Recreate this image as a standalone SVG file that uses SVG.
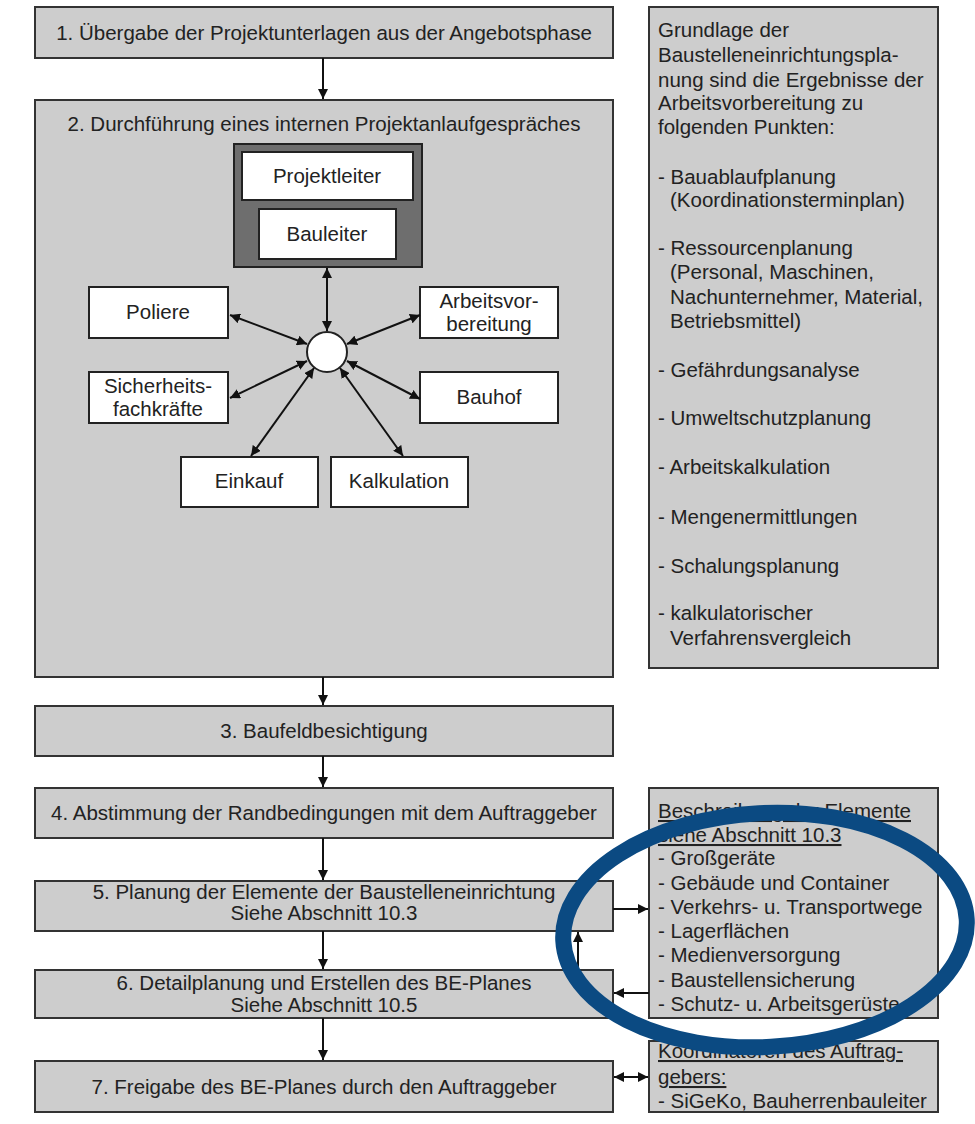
<svg xmlns="http://www.w3.org/2000/svg" width="975" height="1124" viewBox="0 0 975 1124">
  <defs>
    <marker id="ah" viewBox="0 0 10 10" refX="10" refY="5" markerWidth="10" markerHeight="10" markerUnits="userSpaceOnUse" orient="auto-start-reverse">
      <path d="M0,0 L10,5 L0,10 z" fill="#111"/>
    </marker>
    <style>
      .box { fill: #cdcdcd; stroke: #333; stroke-width: 2; }
      .wbox { fill: #fff; stroke: #222; stroke-width: 2; }
      .dark { fill: #6e6e6e; stroke: #222; stroke-width: 2; }
      text { font-family: "Liberation Sans", Arial, sans-serif; font-size: 20.5px; fill: #222; }
      .c { text-anchor: middle; }
      .u { text-decoration: underline; }
      .link { stroke: #111; stroke-width: 2; fill: none; }
    </style>
  </defs>
  <rect width="975" height="1124" fill="#fff"/>

  <!-- main process steps -->
  <g id="step1">
    <rect class="box" x="35" y="7" width="578" height="51"/>
    <text class="c" x="324" y="40">1. Übergabe der Projektunterlagen aus der Angebotsphase</text>
  </g>
  <g id="step2">
    <rect class="box" x="35" y="100" width="578" height="577"/>
    <text class="c" x="324" y="131">2. Durchführung eines internen Projektanlaufgespräches</text>
  </g>
  <g id="leitung">
    <rect class="dark" x="234" y="144" width="188" height="123"/>
  </g>
  <g id="projektleiter">
    <rect class="wbox" x="242" y="152" width="171" height="48"/>
    <text class="c" x="327" y="183">Projektleiter</text>
  </g>
  <g id="bauleiter">
    <rect class="wbox" x="259" y="209" width="137" height="50"/>
    <text class="c" x="327" y="241">Bauleiter</text>
  </g>
  <g id="hub">
    <circle cx="327" cy="352" r="20" fill="#fff" stroke="#222" stroke-width="2"/>
  </g>
  <g id="poliere">
    <rect class="wbox" x="89" y="287" width="139" height="51"/>
    <text class="c" x="158" y="319">Poliere</text>
  </g>
  <g id="arbeitsvorbereitung">
    <rect class="wbox" x="420" y="287" width="138" height="51"/>
    <text class="c" x="489" y="308">Arbeitsvor-</text>
    <text class="c" x="489" y="331">bereitung</text>
  </g>
  <g id="sicherheitsfachkraefte">
    <rect class="wbox" x="89" y="372" width="139" height="51"/>
    <text class="c" x="158" y="393">Sicherheits-</text>
    <text class="c" x="158" y="416">fachkräfte</text>
  </g>
  <g id="bauhof">
    <rect class="wbox" x="420" y="372" width="138" height="51"/>
    <text class="c" x="489" y="404">Bauhof</text>
  </g>
  <g id="einkauf">
    <rect class="wbox" x="181" y="457" width="137" height="50"/>
    <text class="c" x="249" y="488">Einkauf</text>
  </g>
  <g id="kalkulation">
    <rect class="wbox" x="331" y="457" width="137" height="50"/>
    <text class="c" x="399" y="488">Kalkulation</text>
  </g>
  <g id="step3">
    <rect class="box" x="35" y="706" width="578" height="50"/>
    <text class="c" x="324" y="738">3. Baufeldbesichtigung</text>
  </g>
  <g id="step4">
    <rect class="box" x="35" y="788" width="578" height="50"/>
    <text class="c" x="324" y="820">4. Abstimmung der Randbedingungen mit dem Auftraggeber</text>
  </g>
  <g id="step5">
    <rect class="box" x="35" y="881" width="578" height="50"/>
    <text class="c" x="324" y="899">5. Planung der Elemente der Baustelleneinrichtung</text>
    <text class="c" x="324" y="920">Siehe Abschnitt 10.3</text>
  </g>
  <g id="step6">
    <rect class="box" x="35" y="970" width="578" height="48"/>
    <text class="c" x="324" y="990">6. Detailplanung und Erstellen des BE-Planes</text>
    <text class="c" x="324" y="1012">Siehe Abschnitt 10.5</text>
  </g>
  <g id="step7">
    <rect class="box" x="35" y="1061" width="578" height="51"/>
    <text class="c" x="324" y="1094">7. Freigabe des BE-Planes durch den Auftraggeber</text>
  </g>

  <!-- side notes -->
  <g id="grundlagen">
    <rect class="box" x="649" y="7" width="289" height="661"/>
    <text x="658" y="37">Grundlage der</text>
    <text x="658" y="62">Baustelleneinrichtungspla-</text>
    <text x="658" y="87">nung sind die Ergebnisse der</text>
    <text x="658" y="110">Arbeitsvorbereitung zu</text>
    <text x="658" y="134">folgenden Punkten:</text>
    <text x="658" y="184">- Bauablaufplanung</text>
    <text x="670" y="207">(Koordinationsterminplan)</text>
    <text x="658" y="255">- Ressourcenplanung</text>
    <text x="670" y="279">(Personal, Maschinen,</text>
    <text x="670" y="304">Nachunternehmer, Material,</text>
    <text x="670" y="328">Betriebsmittel)</text>
    <text x="658" y="377">- Gefährdungsanalyse</text>
    <text x="658" y="425">- Umweltschutzplanung</text>
    <text x="658" y="474">- Arbeitskalkulation</text>
    <text x="658" y="524">- Mengenermittlungen</text>
    <text x="658" y="573">- Schalungsplanung</text>
    <text x="658" y="620">- kalkulatorischer</text>
    <text x="670" y="645">Verfahrensvergleich</text>
  </g>
  <g id="elemente">
    <rect class="box" x="649" y="788" width="289" height="230"/>
    <text class="u" x="658" y="818">Beschreibung der Elemente</text>
    <text class="u" x="658" y="842">siehe Abschnitt 10.3</text>
    <text x="658" y="865">- Großgeräte</text>
    <text x="658" y="890">- Gebäude und Container</text>
    <text x="658" y="914">- Verkehrs- u. Transportwege</text>
    <text x="658" y="938">- Lagerflächen</text>
    <text x="658" y="962">- Medienversorgung</text>
    <text x="658" y="987">- Baustellensicherung</text>
    <text x="658" y="1011">- Schutz- u. Arbeitsgerüste</text>
  </g>
  <g id="koordinatoren">
    <rect class="box" x="649" y="1041" width="289" height="71"/>
    <text class="u" x="658" y="1058">Koordinatoren des Auftrag-</text>
    <text class="u" x="658" y="1084">gebers:</text>
    <text x="658" y="1108">- SiGeKo, Bauherrenbauleiter</text>
  </g>

  <!-- connectors -->
  <g id="connectors">
    <line class="link" x1="323" y1="58" x2="323" y2="99" marker-end="url(#ah)"/>
    <line class="link" x1="323" y1="677" x2="323" y2="705" marker-end="url(#ah)"/>
    <line class="link" x1="323" y1="756" x2="323" y2="787" marker-end="url(#ah)"/>
    <line class="link" x1="323" y1="838" x2="323" y2="880" marker-end="url(#ah)"/>
    <line class="link" x1="323" y1="931" x2="323" y2="969" marker-end="url(#ah)"/>
    <line class="link" x1="323" y1="1018" x2="323" y2="1060" marker-end="url(#ah)"/>
    <line class="link" x1="613" y1="909" x2="648" y2="909" marker-end="url(#ah)"/>
    <line class="link" x1="649" y1="993" x2="614" y2="993" marker-end="url(#ah)"/>
    <line class="link" x1="578" y1="970" x2="578" y2="932" marker-end="url(#ah)"/>
    <line class="link" x1="614" y1="1077" x2="648" y2="1077" marker-start="url(#ah)" marker-end="url(#ah)"/>
    <!-- meeting hub spokes -->
    <line class="link" x1="327" y1="268" x2="327" y2="331" marker-start="url(#ah)" marker-end="url(#ah)"/>
    <line class="link" x1="230" y1="315" x2="307" y2="344" marker-start="url(#ah)" marker-end="url(#ah)"/>
    <line class="link" x1="420" y1="315" x2="347" y2="344" marker-start="url(#ah)" marker-end="url(#ah)"/>
    <line class="link" x1="230" y1="398" x2="307" y2="361" marker-start="url(#ah)" marker-end="url(#ah)"/>
    <line class="link" x1="420" y1="399" x2="347" y2="361" marker-start="url(#ah)" marker-end="url(#ah)"/>
    <line class="link" x1="251" y1="456" x2="314" y2="368" marker-start="url(#ah)" marker-end="url(#ah)"/>
    <line class="link" x1="403" y1="456" x2="340" y2="368" marker-start="url(#ah)" marker-end="url(#ah)"/>
  </g>

  <!-- highlight ring -->
  <ellipse cx="765" cy="930" rx="202" ry="117" fill="none" stroke="#0b4a82" stroke-width="16" transform="rotate(-3 765 930)"/>
</svg>
